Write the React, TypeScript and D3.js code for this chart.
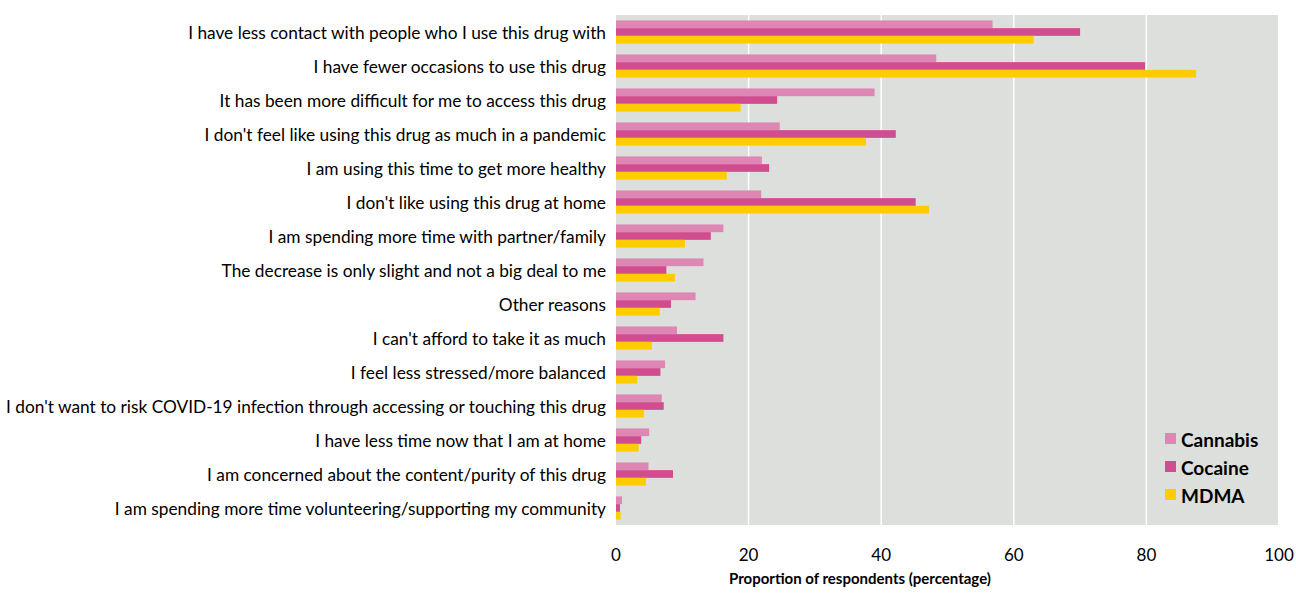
import React from "react";
import * as d3 from "d3";

const categories = [
  "I have less contact with people who I use this drug with",
  "I have fewer occasions to use this drug",
  "It has been more difficult for me to access this drug",
  "I don't feel like using this drug as much in a pandemic",
  "I am using this time to get more healthy",
  "I don't like using this drug at home",
  "I am spending more time with partner/family",
  "The decrease is only slight and not a big deal to me",
  "Other reasons",
  "I can't afford to take it as much",
  "I feel less stressed/more balanced",
  "I don't want to risk COVID-19 infection through accessing or touching this drug",
  "I have less time now that I am at home",
  "I am concerned about the content/purity of this drug",
  "I am spending more time volunteering/supporting my community",
];
const cannabis = [56.8, 48.3, 39.0, 24.7, 22.0, 21.9, 16.2, 13.2, 12.0, 9.2, 7.4, 6.9, 5.0, 4.9, 0.9];
const cocaine = [70.0, 79.8, 24.3, 42.2, 23.1, 45.2, 14.3, 7.6, 8.3, 16.2, 6.7, 7.2, 3.8, 8.6, 0.6];
const mdma = [63.0, 87.5, 18.8, 37.7, 16.7, 47.2, 10.4, 8.9, 6.6, 5.4, 3.2, 4.2, 3.4, 4.5, 0.7];
const seriesNames = ["Cannabis", "Cocaine", "MDMA"];
const seriesColors = ["#de87b4", "#d24d8f", "#ffcc00"];
const xTicks = [0, 20, 40, 60, 80, 100];

const W = 1296, H = 596;
const left = 616, right = 1279, top = 15, bottom = 525;
const FONT = "Lato, 'Open Sans', sans-serif";

export default function App() {
  const x = d3.scaleLinear().domain([0, 100]).range([left, right]);
  const y = d3.scaleBand<string>().domain(categories).range([top, bottom]).paddingInner(0.32).paddingOuter(0.16);
  const sub = d3.scaleBand<string>().domain(seriesNames).range([0, y.bandwidth()]);
  const values = [cannabis, cocaine, mdma];
  return (
    <svg width={W} height={H} style={{ position: "absolute", left: 0, top: 0, background: "#fff" }}>
      <rect x={left} y={top} width={right - left - 1} height={bottom - top} fill="#dddfdc" />
      {xTicks.slice(1, -1).map((t) => (
        <line key={t} x1={x(t)} x2={x(t)} y1={top} y2={bottom} stroke="#ffffff" strokeWidth={1.5} />
      ))}
      {categories.map((c, i) => (
        <g key={c}>
          {values.map((vals, s) => (
            <rect
              key={s}
              x={x(0)}
              y={(y(c) as number) + (sub(seriesNames[s]) as number)}
              width={x(vals[i]) - x(0)}
              height={sub.bandwidth()}
              fill={seriesColors[s]}
            />
          ))}
          <text
            x={606}
            y={(y(c) as number) + y.bandwidth() / 2}
            textAnchor="end"
            dominantBaseline="central"
            fontFamily={FONT}
            fontSize={17.3}
            fill="#000"
          >
            {c}
          </text>
        </g>
      ))}
      {xTicks.map((t) => (
        <text key={t} x={x(t)} y={554} textAnchor="middle" dominantBaseline="central" fontFamily={FONT} fontSize={17} fill="#000">
          {t}
        </text>
      ))}
      <text x={860} y={578} textAnchor="middle" dominantBaseline="central" fontFamily={FONT} fontSize={15} fontWeight="bold" fill="#000">
        Proportion of respondents (percentage)
      </text>
      {seriesNames.map((n, s) => (
        <g key={n} transform={`translate(1165, ${439 + s * 28})`}>
          <rect x={0} y={-6} width={11} height={11} fill={seriesColors[s]} />
          <text x={16} y={0} dominantBaseline="central" fontFamily={FONT} fontSize={19} fontWeight="bold" fill="#000">
            {n}
          </text>
        </g>
      ))}
    </svg>
  );
}
